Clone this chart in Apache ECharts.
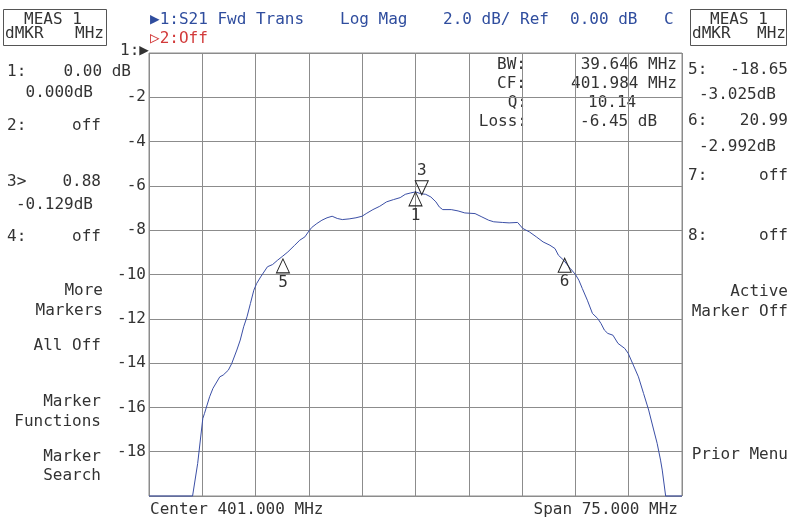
<!DOCTYPE html>
<html>
<head>
<meta charset="utf-8">
<script src="https://cdn.jsdelivr.net/npm/echarts@6/dist/echarts.min.js"></script>
<style>
  html, body { margin: 0; padding: 0; background: #fff; }
  #chart { width: 789px; height: 519px; }
</style>
</head>
<body>
<div id="chart"></div>
<script>
// trace: offset from center (MHz) and magnitude (dB)
const freqOffset = [
  -37.5, -31.37, -30.65, -29.93, -29.69, -28.97, -28.5, -27.54, -27.06, -26.34,
  -25.86, -25.14, -24.66, -24.18, -23.71, -23.23, -22.75, -22.36, -21.79, -20.83,
  -20.11, -19.39, -18.68, -17.96, -17.0, -16.28, -15.56, -15.09, -14.61, -13.89,
  -13.17, -12.45, -11.73, -11.01, -10.3, -9.34, -8.38, -7.52, -6.94, -5.99,
  -5.03, -4.07, -3.11, -2.16, -1.44, -0.72, 0, 0.72, 1.44, 2.16,
  2.87, 3.35, 3.83, 5.03, 5.99, 6.94, 8.38, 9.34, 10.3, 11.01,
  12.21, 13.17, 14.37, 15.09, 16.04, 17.0, 17.96, 18.92, 19.63, 20.11,
  20.83, 21.79, 22.51, 22.99, 23.47, 24.18, 24.9, 25.62, 26.1, 26.58,
  27.06, 27.78, 28.49, 29.45, 29.93, 30.65, 31.37, 32.09, 32.81, 33.52,
  34.0, 34.48, 34.72, 35.2, 37.5
]
const magDb = [
  -20, -20, -18.53, -16.5, -16.27, -15.52, -15.14, -14.62, -14.54, -14.32,
  -14.02, -13.41, -12.96, -12.36, -11.91, -11.31, -10.71, -10.41, -10.11, -9.65,
  -9.55, -9.35, -9.17, -8.98, -8.68, -8.45, -8.3, -8.08, -7.88, -7.7,
  -7.55, -7.44, -7.37, -7.47, -7.52, -7.49, -7.44, -7.37, -7.25, -7.07,
  -6.92, -6.72, -6.62, -6.53, -6.38, -6.32, -6.27, -6.35, -6.38, -6.5,
  -6.72, -6.95, -7.07, -7.07, -7.13, -7.22, -7.25, -7.4, -7.55, -7.62,
  -7.65, -7.67, -7.65, -7.92, -8.08, -8.3, -8.53, -8.68, -8.83, -9.13,
  -9.35, -9.73, -10.0, -10.26, -10.63, -11.16, -11.76, -11.98, -12.21, -12.51,
  -12.66, -12.74, -13.11, -13.34, -13.56, -14.09, -14.62, -15.37, -16.12, -17.02,
  -17.62, -18.38, -18.83, -20, -20
]

// markers
const markerNames = ['1', '3', '5', '6']
const markerOffset = [0, 0.88, -18.65, 20.99]
const markerDb = [-6.27, -6.4, -9.295, -9.262]

const yTicks = [-2, -4, -6, -8, -10, -12, -14, -16, -18]

const FAMILY = '"DejaVu Sans Mono", "Liberation Mono", monospace'
const FONT = '16px ' + FAMILY
const INK = '#333'
const BLUE = '#2f4d9e'
const RED = '#d23a3a'
const GRID = '#8c8c8c'

function txt(x, y, text, opts) {
  opts = opts || {}
  return {
    type: 'text',
    x: x,
    y: y,
    silent: true,
    style: {
      text: text,
      font: FONT,
      fill: opts.color || INK,
      align: opts.align || 'left',
      verticalAlign: 'middle'
    }
  }
}

const graphics = [
  // boxes
  { type: 'rect', shape: { x: 3.5, y: 9.5, width: 103, height: 36 }, style: { fill: 'none', stroke: '#555', lineWidth: 1 } },
  { type: 'rect', shape: { x: 690.5, y: 9.5, width: 96, height: 36 }, style: { fill: 'none', stroke: '#555', lineWidth: 1 } },
  txt(24, 20, 'MEAS 1'),
  txt(5, 34, 'dMKR'),
  txt(104, 34, 'MHz', { align: 'right' }),
  txt(710, 20, 'MEAS 1'),
  txt(692, 34, 'dMKR'),
  txt(786, 34, 'MHz', { align: 'right' }),

  // header
  txt(150, 20, '\u25B61:S21 Fwd Trans', { color: BLUE }),
  txt(340, 20, 'Log Mag', { color: BLUE }),
  txt(443, 20, '2.0 dB/ Ref', { color: BLUE }),
  txt(570, 20, '0.00 dB', { color: BLUE }),
  txt(664, 20, 'C', { color: BLUE }),
  txt(150, 39, '\u25B72:Off', { color: RED }),
  txt(149, 51, '1:\u25B6', { align: 'right' }),

  // left softkeys / marker list
  txt(7, 72, '1:'),
  txt(131, 72, '0.00 dB', { align: 'right' }),
  txt(93, 93, '0.000dB', { align: 'right' }),
  txt(7, 126, '2:'),
  txt(101, 126, 'off', { align: 'right' }),
  txt(7, 182, '3>'),
  txt(101, 182, '0.88', { align: 'right' }),
  txt(93, 205, '-0.129dB', { align: 'right' }),
  txt(7, 237, '4:'),
  txt(101, 237, 'off', { align: 'right' }),
  txt(103, 291, 'More', { align: 'right' }),
  txt(103, 311, 'Markers', { align: 'right' }),
  txt(101, 346, 'All Off', { align: 'right' }),
  txt(101, 402, 'Marker', { align: 'right' }),
  txt(101, 422, 'Functions', { align: 'right' }),
  txt(101, 457, 'Marker', { align: 'right' }),
  txt(101, 476, 'Search', { align: 'right' }),

  // right panel
  txt(688, 70, '5:'),
  txt(788, 70, '-18.65', { align: 'right' }),
  txt(776, 95, '-3.025dB', { align: 'right' }),
  txt(688, 121, '6:'),
  txt(788, 121, '20.99', { align: 'right' }),
  txt(776, 147, '-2.992dB', { align: 'right' }),
  txt(688, 176, '7:'),
  txt(788, 176, 'off', { align: 'right' }),
  txt(688, 236, '8:'),
  txt(788, 236, 'off', { align: 'right' }),
  txt(788, 292, 'Active', { align: 'right' }),
  txt(788, 312, 'Marker Off', { align: 'right' }),
  txt(788, 455, 'Prior Menu', { align: 'right' }),

  // bandwidth readout
  txt(526, 65, 'BW:', { align: 'right' }),
  txt(677, 65, '39.646 MHz', { align: 'right' }),
  txt(526, 84, 'CF:', { align: 'right' }),
  txt(677, 84, '401.984 MHz', { align: 'right' }),
  txt(527, 103, 'Q:', { align: 'right' }),
  txt(588, 103, '10.14'),
  txt(527, 122, 'Loss:', { align: 'right' }),
  txt(580, 122, '-6.45 dB'),

  // footer
  txt(150, 510, 'Center 401.000 MHz'),
  txt(678, 510, 'Span 75.000 MHz', { align: 'right' })
]

const chart = echarts.init(document.getElementById('chart'))
chart.setOption({
  backgroundColor: '#fff',
  animation: false,
  grid: {
    left: 149, top: 53, width: 533, height: 443,
    show: true, borderColor: GRID, borderWidth: 1
  },
  xAxis: {
    type: 'value',
    min: -37.5,
    max: 37.5,
    interval: 7.5,
    axisLabel: { show: false },
    axisTick: { show: false },
    axisLine: { show: false },
    splitLine: { show: true, lineStyle: { color: GRID, width: 1 } }
  },
  yAxis: {
    type: 'value',
    min: -20,
    max: 0,
    interval: 2,
    axisLine: { show: false },
    axisTick: { show: true, length: 4, lineStyle: { color: GRID } },
    axisLabel: {
      margin: 3,
      fontFamily: FAMILY,
      fontSize: 16,
      color: INK,
      formatter: v => (yTicks.indexOf(v) >= 0 ? String(v) : '')
    },
    splitLine: { show: true, lineStyle: { color: GRID, width: 1 } }
  },
  series: [
    {
      type: 'line',
      data: freqOffset.map((f, i) => [f, magDb[i]]),
      showSymbol: false,
      clip: false,
      lineStyle: { color: '#3b4fa6', width: 1 },
      z: 3
    },
    {
      type: 'scatter',
      data: markerNames.map((n, i) => ({
        value: [markerOffset[i], markerDb[i]],
        name: n,
        symbolRotate: n === '3' ? 180 : 0,
        symbolOffset: n === '3' ? [0, -7] : [0, 7],
        label: n === '3' ? { position: 'top', distance: 1 } : { position: 'bottom', distance: 1 }
      })),
      symbol: 'triangle',
      symbolSize: [13, 14],
      itemStyle: { color: 'rgba(255,255,255,0)', borderColor: '#222', borderWidth: 1, opacity: 1 },
      label: {
        show: true,
        formatter: p => p.name,
        fontFamily: FAMILY,
        fontSize: 16,
        color: INK
      },
      z: 4
    }
  ],
  graphic: graphics
})
</script>
</body>
</html>
